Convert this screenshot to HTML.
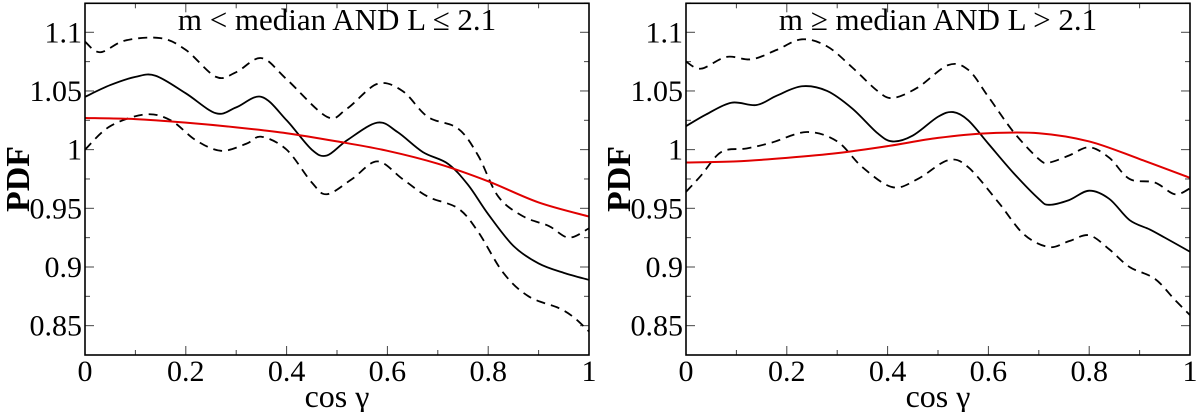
<!DOCTYPE html>
<html><head><meta charset="utf-8"><style>
html,body{margin:0;padding:0;background:#fff;}
svg, svg text{font-family:"Liberation Serif","Times New Roman","DejaVu Serif",serif;}
svg text{fill:#000;}
</style></head><body>
<svg id="chart" width="1200" height="412" viewBox="0 0 1200 412" font-family="Liberation Serif, Times New Roman, DejaVu Serif, serif" xmlns="http://www.w3.org/2000/svg"></svg>
<script>
const xTicks=[0,0.2,0.4,0.6,0.8,1];
const xTickLabels=["0","0.2","0.4","0.6","0.8","1"];
const yTicks=[0.85,0.9,0.95,1,1.05,1.1];
const yTickLabels=["0.85","0.9","0.95","1","1.05","1.1"];
const titles=["m < median AND L \u2264 2.1","m \u2265 median AND L > 2.1"];

const lSolidX=[0,0.05,0.1,0.14,0.2,0.26,0.3,0.35,0.4,0.45,0.48,0.52,0.58,0.62,0.67,0.72,0.76,0.8,0.85,0.9,0.95,1.0];
const lSolidY=[1.045,1.055,1.062,1.063,1.048,1.031,1.036,1.045,1.025,1.0,0.995,1.008,1.023,1.015,0.998,0.988,0.97,0.945,0.918,0.903,0.895,0.889];
const lUpX=[0,0.03,0.08,0.15,0.2,0.26,0.3,0.35,0.4,0.48,0.52,0.58,0.63,0.68,0.74,0.78,0.82,0.87,0.92,0.96,1.0];
const lUpY=[1.092,1.083,1.093,1.095,1.085,1.062,1.066,1.078,1.06,1.028,1.035,1.056,1.05,1.028,1.018,0.995,0.96,0.943,0.935,0.925,0.933];
const lLoX=[0,0.05,0.12,0.17,0.22,0.27,0.32,0.35,0.4,0.45,0.48,0.53,0.58,0.63,0.68,0.74,0.78,0.83,0.88,0.94,0.97,1.0];
const lLoY=[1.0,1.02,1.03,1.025,1.008,0.999,1.005,1.011,1.0,0.972,0.962,0.975,0.99,0.975,0.96,0.95,0.93,0.895,0.875,0.865,0.857,0.845];
const lRedX=[0,0.1,0.2,0.3,0.4,0.5,0.6,0.7,0.8,0.9,1.0];
const lRedY=[1.027,1.026,1.023,1.019,1.014,1.007,0.999,0.988,0.973,0.955,0.943];

const rSolidX=[0,0.04,0.09,0.14,0.18,0.23,0.28,0.33,0.38,0.41,0.45,0.5,0.53,0.56,0.6,0.65,0.7,0.72,0.76,0.8,0.84,0.88,0.92,0.95,1.0];
const rSolidY=[1.02,1.03,1.04,1.038,1.046,1.054,1.05,1.035,1.014,1.007,1.012,1.028,1.032,1.025,1.005,0.98,0.958,0.953,0.957,0.965,0.958,0.94,0.932,0.925,0.913];
const rUpX=[0,0.03,0.08,0.13,0.18,0.23,0.28,0.33,0.38,0.41,0.46,0.52,0.56,0.6,0.65,0.7,0.72,0.76,0.8,0.84,0.88,0.93,0.97,1.0];
const rUpY=[1.075,1.069,1.079,1.077,1.085,1.094,1.088,1.07,1.05,1.044,1.053,1.072,1.068,1.045,1.015,0.992,0.989,0.995,1.002,0.993,0.975,0.972,0.962,0.967];
const rLoX=[0,0.03,0.07,0.12,0.17,0.24,0.3,0.35,0.41,0.46,0.52,0.56,0.62,0.67,0.72,0.76,0.8,0.84,0.88,0.93,0.97,1.0];
const rLoY=[0.964,0.978,0.998,1.001,1.006,1.015,1.007,0.985,0.968,0.975,0.991,0.985,0.955,0.928,0.917,0.922,0.927,0.915,0.9,0.89,0.872,0.859];
const rRedX=[0,0.1,0.2,0.3,0.4,0.5,0.6,0.7,0.8,0.9,1.0];
const rRedY=[0.989,0.99,0.993,0.997,1.003,1.01,1.014,1.014,1.007,0.992,0.976];

const NS="http://www.w3.org/2000/svg";
const FONT="Liberation Serif, Times New Roman, DejaVu Serif, serif";
const svg=document.getElementById('chart');
function mk(tag,attrs,parent){const e=document.createElementNS(NS,tag);for(const k in attrs)e.setAttribute(k,attrs[k]);(parent||svg).appendChild(e);return e;}
const Y0=0.825,Y1=1.1247,TOP=3.3,BOT=355;
function smooth(pts){let d="M"+pts[0][0].toFixed(2)+","+pts[0][1].toFixed(2);
 for(let i=0;i<pts.length-1;i++){const p0=pts[Math.max(0,i-1)],p1=pts[i],p2=pts[i+1],p3=pts[Math.min(pts.length-1,i+2)];
  const c1=[p1[0]+(p2[0]-p0[0])/6,p1[1]+(p2[1]-p0[1])/6],c2=[p2[0]-(p3[0]-p1[0])/6,p2[1]-(p3[1]-p1[1])/6];
  d+="C"+c1[0].toFixed(2)+","+c1[1].toFixed(2)+" "+c2[0].toFixed(2)+","+c2[1].toFixed(2)+" "+p2[0].toFixed(2)+","+p2[1].toFixed(2);}
 return d;}
function panel(L,R,title,series,idx){
 const g=mk('g',{});
 
 
 const sx=v=>L+v*(R-L), sy=v=>BOT-(v-Y0)/(Y1-Y0)*(BOT-TOP);
 const clipId='clip'+idx;
 const cp=mk('clipPath',{id:clipId},g);mk('rect',{x:L,y:TOP,width:R-L,height:BOT-TOP},cp);
 for(let i=0;i<=10;i++){const x=sx(i/10),len=(i%2==0)?9:5;
  mk('line',{x1:x,y1:BOT,x2:x,y2:BOT-len,stroke:'#444','stroke-width':1},g);
  mk('line',{x1:x,y1:TOP,x2:x,y2:TOP+len,stroke:'#444','stroke-width':1},g);}
 for(let k=0;k<=11;k++){const v=0.85+k*0.025;const y=sy(v),len=(k%2==0)?9:5;
  mk('line',{x1:L,y1:y,x2:L+len,y2:y,stroke:'#444','stroke-width':1},g);
  mk('line',{x1:R,y1:y,x2:R-len,y2:y,stroke:'#444','stroke-width':1},g);}
 xTicks.forEach((v,i)=>{const t=mk('text',{x:sx(v),y:381,'font-size':30,'text-anchor':'middle','font-family':FONT},g);t.textContent=xTickLabels[i];
  });
 yTicks.forEach((v,i)=>{const t=mk('text',{x:L-3,y:sy(v)+10,'font-size':30,'text-anchor':'end','font-family':FONT},g);t.textContent=yTickLabels[i];
  });
 const tt=mk('text',{x:(L+R)/2,y:30,'font-size':31,'text-anchor':'middle','font-family':FONT},g);tt.textContent=title;
 
 const xl=mk('text',{x:(L+R)/2,y:407,'font-size':32,'text-anchor':'middle','font-family':FONT},g);xl.textContent="cos \u03b3";
 
 const yl=mk('text',{x:0,y:0,'font-size':34,'font-weight':'bold','text-anchor':'middle','font-family':FONT,transform:'translate('+(L-56)+',179) rotate(-90)'},g);yl.textContent="PDF";
 
 const cg=mk('g',{'clip-path':'url(#'+clipId+')'},g);
 series.forEach(s=>{const pts=s.x.map((v,i)=>[sx(v),sy(s.y[i])]);
  const p=mk('path',{d:smooth(pts),fill:'none',stroke:s.c,'stroke-width':s.c=='#e00000'?2:1.8,'stroke-dasharray':s.dash||'none'},cg);
  });
 const fr=mk('rect',{x:L,y:TOP,width:R-L,height:BOT-TOP,fill:'none',stroke:'#000','stroke-width':1.6},g);
 
}
panel(85,589,titles[0],[
 {x:lUpX,y:lUpY,c:'#000',dash:'9,6',n:'upper-bound-line'},
 {x:lLoX,y:lLoY,c:'#000',dash:'9,6',n:'lower-bound-line'},
 {x:lSolidX,y:lSolidY,c:'#000',n:'pdf-line'},
 {x:lRedX,y:lRedY,c:'#e00000',n:'model-line'}],0);
panel(686,1190,titles[1],[
 {x:rUpX,y:rUpY,c:'#000',dash:'9,6',n:'upper-bound-line'},
 {x:rLoX,y:rLoY,c:'#000',dash:'9,6',n:'lower-bound-line'},
 {x:rSolidX,y:rSolidY,c:'#000',n:'pdf-line'},
 {x:rRedX,y:rRedY,c:'#e00000',n:'model-line'}],1);
</script>
</body></html>
